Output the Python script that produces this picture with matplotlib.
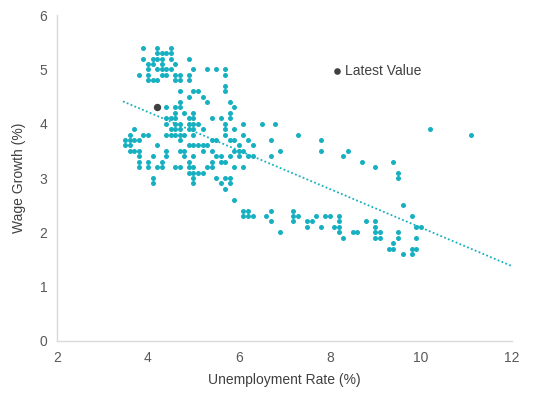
import numpy as np
import matplotlib
matplotlib.use("Agg")
import matplotlib.pyplot as plt

plt.rcParams['font.family'] = ['Liberation Sans', 'DejaVu Sans']

# wage growth level -> unemployment rates observed at that level
rows = {
    5.4: [3.9, 4.2, 4.5],
    5.3: [4.2, 4.3, 4.4, 4.5],
    5.2: [3.9, 4.1, 4.2, 4.3, 4.5, 4.9],
    5.1: [4.0, 4.1, 4.3, 4.6],
    5.0: [4.0, 4.2, 4.3, 4.4, 4.5, 5.0, 5.3, 5.5, 5.7],
    4.9: [3.8, 4.0, 4.3, 4.4, 4.6, 4.7, 4.9, 5.7],
    4.8: [4.0, 4.1, 4.2, 4.6, 4.7, 4.9],
    4.7: [5.7],
    4.6: [4.7, 5.0, 5.1, 5.7],
    4.5: [4.9, 5.2],
    4.4: [4.7, 5.3, 5.8],
    4.3: [4.4, 4.6, 4.7, 5.9],
    4.2: [4.6, 4.8, 5.0, 5.8],
    4.1: [4.4, 4.5, 4.6, 4.9, 5.0, 5.4, 5.6, 5.8],
    4.0: [4.4, 4.6, 4.7, 4.9, 5.0, 5.1, 5.7, 6.1, 6.5, 6.8],
    3.9: [3.7, 4.5, 4.6, 4.7, 4.9, 5.0, 5.2, 5.7, 5.9, 10.2],
    3.8: [3.6, 3.9, 4.0, 4.4, 4.5, 4.6, 4.7, 4.8, 5.0, 5.7, 6.1, 7.3, 11.1],
    3.7: [3.5, 3.6, 3.7, 3.8, 4.7, 5.4, 5.5, 5.8, 5.9, 6.2, 6.7, 7.8],
    3.6: [3.5, 3.6, 4.2, 4.9, 5.0, 5.1, 5.2, 5.3, 6.0, 6.3],
    3.5: [3.6, 3.7, 3.8, 4.4, 4.7, 4.8, 5.2, 5.4, 5.9, 6.0, 6.1, 6.9, 7.8, 8.4],
    3.4: [3.8, 4.1, 4.4, 4.8, 5.0, 5.5, 5.6, 5.8, 6.0, 6.2, 6.3, 6.7, 8.3],
    3.3: [3.8, 4.0, 4.3, 4.9, 5.4, 5.6, 5.7, 8.7, 9.4],
    3.2: [3.8, 4.0, 4.2, 4.3, 4.6, 4.7, 4.9, 5.0, 5.3, 5.4, 5.9, 6.1, 9.0],
    3.1: [4.9, 5.0, 5.1, 5.2, 9.5],
    3.0: [4.1, 5.0, 5.5, 5.7, 5.8, 9.5],
    2.9: [4.1, 5.0, 5.6, 5.8],
    2.8: [5.7],
    2.6: [5.9],
    2.5: [9.6],
    2.4: [6.1, 6.2, 6.7, 7.2],
    2.3: [6.1, 6.2, 6.3, 6.6, 7.2, 7.3, 7.7, 7.9, 8.0, 8.2, 9.8],
    2.2: [6.7, 7.2, 7.5, 7.6, 8.2, 8.8, 9.0],
    2.1: [7.5, 7.8, 8.1, 8.2, 9.0, 9.9, 10.0],
    2.0: [6.9, 8.2, 8.5, 8.6, 9.0, 9.1, 9.5],
    1.9: [8.3, 9.0, 9.1, 9.5, 9.9],
    1.8: [9.4],
    1.7: [9.3, 9.4, 9.8, 9.9],
    1.6: [9.6, 9.8],
}

latest_x = [4.2]
latest_y = [4.3]

trend_x = [3.45, 12.0]
trend_y = [4.41, 1.38]

unemp = [u for w, us in rows.items() for u in us]
wage = [w for w, us in rows.items() for u in us]

teal = '#17B0C0'
grey = '#595959'

fig = plt.figure(figsize=(5.33, 3.96), dpi=100)
ax = fig.add_axes([0.107, 0.139, 0.853, 0.823])

ax.scatter(unemp, wage, s=13, color=teal, linewidths=0, zorder=2)
ax.plot(trend_x, trend_y, color=teal, linestyle=(0, (1, 1.3)), linewidth=1.3, zorder=1)
ax.scatter(latest_x, latest_y, s=28, color='#404040', linewidths=0, zorder=3, label='Latest Value')

ax.set_xlim(2, 12)
ax.set_ylim(0, 6)
ax.set_xticks([2, 4, 6, 8, 10, 12])
ax.set_yticks([0, 1, 2, 3, 4, 5, 6])
ax.tick_params(length=0, labelsize=10, labelcolor=grey, pad=7)
for s in ['top', 'right']:
    ax.spines[s].set_visible(False)
for s in ['left', 'bottom']:
    ax.spines[s].set_color('#D9D9D9')
    ax.spines[s].set_linewidth(1)

ax.set_xlabel('Unemployment Rate (%)', fontsize=10, color='#404040', labelpad=6)
ax.set_ylabel('Wage Growth (%)', fontsize=10, color='#404040', labelpad=10)

ax.legend(loc='center left', bbox_to_anchor=(0.600, 0.828), frameon=False,
          fontsize=10, handlelength=1.0, handletextpad=0.1, borderpad=0,
          borderaxespad=0, markerscale=0.9, labelcolor='#404040')

fig.savefig('out.png', dpi=100)
